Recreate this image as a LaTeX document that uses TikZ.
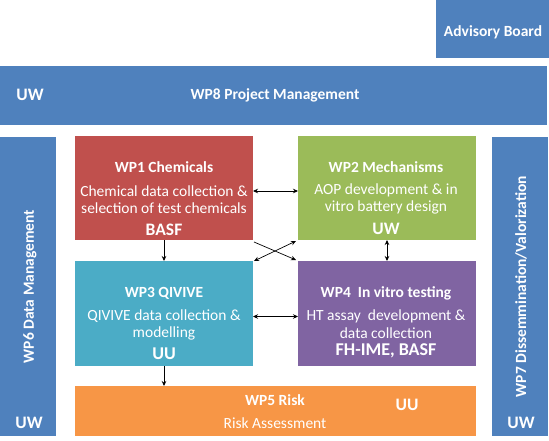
\documentclass[tikz,border=0pt]{standalone}
\usepackage{fontspec}
\setmainfont{Carlito}
\usetikzlibrary{arrows.meta}
\definecolor{obBlue}{HTML}{4F81BD}
\definecolor{obRed}{HTML}{C0504D}
\definecolor{obGreen}{HTML}{9BBB59}
\definecolor{obTeal}{HTML}{4BACC6}
\definecolor{obPurple}{HTML}{8064A2}
\definecolor{obOrange}{HTML}{F79646}
\tikzset{
  wpbox/.style={rectangle, inner sep=0pt, outer sep=0pt, draw=none},
  ttl/.style={text=white, font=\fontsize{15.5}{17}\selectfont\bfseries, inner sep=0pt},
  txt/.style={text=white, font=\fontsize{15.5}{17}\selectfont, inner sep=0pt},
  big/.style={text=white, font=\fontsize{17.5}{20}\selectfont\bfseries, inner sep=0pt},
  conn/.style={black, line width=0.7pt},
  tip/.style={-{Stealth[length=5pt,width=4.5pt]}},
  tips/.style={{Stealth[length=5pt,width=4.5pt]}-{Stealth[length=5pt,width=4.5pt]}}
}
\begin{document}
\begin{tikzpicture}[x=1pt,y=-1pt]
\useasboundingbox (0,0) rectangle (549,440);
% boxes
\node[wpbox, fill=obBlue, minimum width=113pt, minimum height=58pt] (adv) at (492.5,29) {};
\node[wpbox, fill=obBlue, minimum width=547pt, minimum height=59pt] (wp8) at (273.5,95.5) {};
\node[wpbox, fill=obBlue, minimum width=56pt, minimum height=299pt] (wp6) at (28,286.5) {};
\node[wpbox, fill=obBlue, minimum width=56pt, minimum height=299pt] (wp7) at (520,286.5) {};
\node[wpbox, fill=obRed, minimum width=178pt, minimum height=104pt] (wp1) at (164,188) {};
\node[wpbox, fill=obGreen, minimum width=178pt, minimum height=104pt] (wp2) at (387,188) {};
\node[wpbox, fill=obTeal, minimum width=178pt, minimum height=105pt] (wp3) at (164,313.5) {};
\node[wpbox, fill=obPurple, minimum width=178pt, minimum height=105pt] (wp4) at (387,313.5) {};
\node[wpbox, fill=obOrange, minimum width=401pt, minimum height=50pt] (wp5) at (275.5,411) {};
% texts
\node[ttl] (advt) at (493,32) {Advisory Board};
\node[big] (wp8uw) at (30,95) {UW};
\node[ttl] (wp8t) at (275,95) {WP8 Project Management};
\node[ttl, rotate=90] (wp6t) at (30,286.5) {WP6 Data Management};
\node[big] (wp6uw) at (29,423) {UW};
\node[ttl, rotate=90] (wp7t) at (521,286.5) {WP7 Dissemmination/Valorization};
\node[big] (wp7uw) at (521,423) {UW};
\node[ttl] (wp1t) at (164,167) {WP1 Chemicals};
\node[txt] (wp1a) at (164,191) {Chemical data collection \&};
\node[txt] (wp1b) at (164,208) {selection of test chemicals};
\node[big] (wp1c) at (164,230) {BASF};
\node[ttl] (wp2t) at (386,167) {WP2 Mechanisms};
\node[txt] (wp2a) at (386,190) {AOP development \& in};
\node[txt] (wp2b) at (386,207) {vitro battery design};
\node[big] (wp2c) at (386,229) {UW};
\node[ttl] (wp3t) at (164,293) {WP3 QIVIVE};
\node[txt] (wp3a) at (164,316) {QIVIVE data collection \&};
\node[txt] (wp3b) at (164,333) {modelling};
\node[big, font=\fontsize{18}{20}\selectfont\bfseries] (wp3c) at (164,354) {UU};
\node[ttl] (wp4t) at (386,293) {WP4\ \ In vitro testing};
\node[txt] (wp4a) at (386,316) {HT assay\ \ development \&};
\node[txt] (wp4b) at (386,333) {data collection};
\node[big, font=\fontsize{18}{20}\selectfont\bfseries] (wp4c) at (386,351) {FH-IME, BASF};
\node[ttl] (wp5t) at (275,400) {WP5 Risk};
\node[txt] (wp5a) at (275,423) {Risk Assessment};
\node[big] (wp5c) at (407,405) {UU};
% connectors
\draw[conn, tips] ([yshift=-3pt]wp1.east) -- ([yshift=-3pt]wp2.west);
\draw[conn, tips] ([yshift=-3pt]wp3.east) -- ([yshift=-3pt]wp4.west);
\draw[conn, tips] (wp2.south) -- (wp4.north);
\draw[conn, tip] (wp1.south) -- (wp3.north);
\draw[conn, tip] (wp3.south) -- (wp3.south |- wp5.north);
\draw[conn, tip] ([xshift=1pt,yshift=-2pt]wp1.south east) -- ([xshift=-2pt,yshift=1pt]wp4.north west);
\draw[conn, tips] ([xshift=1pt]wp3.north east) -- ([xshift=-2pt,yshift=-1pt]wp2.south west);
\end{tikzpicture}
\end{document}
